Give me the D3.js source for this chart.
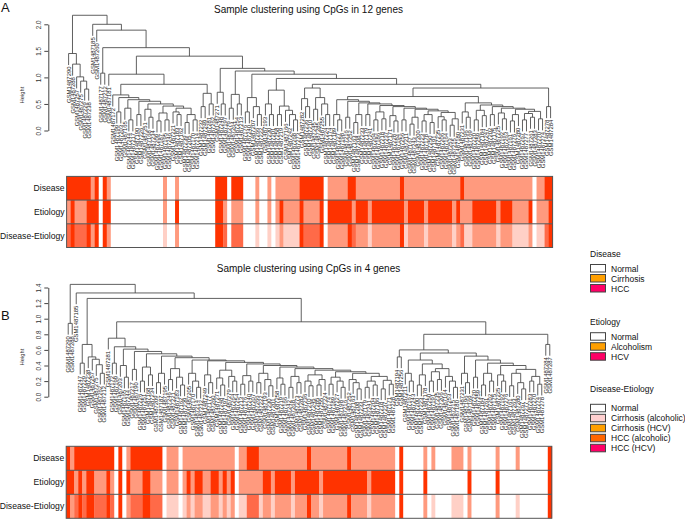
<!DOCTYPE html>
<html><head><meta charset="utf-8">
<script src="https://cdn.jsdelivr.net/npm/d3@7"></script>
<style>body{margin:0;background:#fff}svg{display:block}text{font-family:"Liberation Sans",Arial,Helvetica,sans-serif}</style>
</head><body><div id="chart"></div>
<script>
// ---------------- DATA ----------------
const titleA = "Sample clustering using CpGs in 12 genes";
const titleB = "Sample clustering using CpGs in 4 genes";
const rowNames = ["Disease", "Etiology", "Disease-Etiology"];
const ticksA = [0, 0.5, 1, 1.5, 2];
const ticksB = [0, 0.2, 0.4, 0.6, 0.8, 1.0, 1.2, 1.4];

// leaf labels (GSM1487xxx), left-to-right dendrogram order
const labelsA = [290,288,257,275,229,238,185,260,177,212,181,172,199,203,165,244,217,190,226,251,
 168,234,209,187,195,246,221,183,162,239,205,170,214,232,249,281,262,271,248,197,
 279,264,254,213,176,240,207,266,222,193,230,201,258,219,166,242,268,273,282,236,
 210,245,285,255,224,174,189,227,198,216,252,163,208,233,179,241,204,186,218,237,
 171,228,194,256,211,167,243,200,223,178,250,191,235,206,164,253,215,180,231,196,
 169,220,259,184,247,202,175,225,192,263,161,276,280,267,277,261,283,270,274,278,284];
const labelsB = [290,288,185,247,229,238,257,275,262,212,281,172,199,203,165,244,217,190,226,251,
 168,234,209,187,195,246,221,183,162,239,205,170,214,232,249,177,260,271,248,197,
 279,264,254,213,176,240,207,266,222,193,230,201,258,219,166,242,268,273,282,236,
 210,245,285,255,224,174,189,227,198,216,252,163,208,233,179,241,204,186,218,237,
 171,228,194,256,211,167,243,200,223,178,250,191,235,206,164,253,215,180,231,196,
 169,220,259,184,261,202,175,225,192,276,161,263,280,267,277,283,270,274,278,284,287];

// per-leaf annotation runs: [code, count]
// Disease: N normal, C cirrhosis, H HCC ; Etiology: N normal, A alcoholism, V HCV
const diseaseA = [["H",6],["C",1],["H",1],["N",1],["H",1],["C",1],["N",13],["C",1],["N",2],["C",1],["N",9],
 ["H",3],["N",1],["H",3],["N",3],["C",1],["N",2],["C",1],["N",1],["C",6],["H",6],["N",1],["C",5],["H",2],
 ["C",11],["H",1],["C",14],["H",1],["C",17],["N",1],["C",2],["H",2]];
const etiologyA = [["A",1],["V",1],["A",3],["V",3],["N",1],["V",2],["N",13],["A",1],["N",2],["V",1],["N",9],
 ["V",2],["A",1],["N",1],["A",3],["N",3],["A",1],["N",2],["A",1],["N",1],["A",1],["V",1],["A",4],["V",1],
 ["A",4],["V",1],["N",1],["V",6],["A",1],["V",3],["A",1],["V",8],["A",1],["V",4],["A",1],["V",6],["A",1],
 ["V",1],["A",3],["V",6],["A",1],["V",3],["A",4],["V",1],["N",1],["A",3],["V",1]];
const diseaseB = [["H",1],["C",1],["H",10],["N",1],["H",1],["N",1],["C",1],["H",8],["N",1],["C",3],["N",1],
 ["C",13],["N",1],["C",2],["H",3],["C",12],["H",1],["C",9],["H",1],["C",11],["N",1],["H",1],["N",5],["C",1],
 ["N",1],["C",1],["N",4],["C",3],["N",1],["C",1],["N",6],["C",1],["N",4],["C",1],["N",7],["H",1]];
const etiologyB = [["V",2],["A",1],["V",1],["A",1],["V",2],["A",3],["V",1],["A",1],["N",1],["V",1],["N",1],
 ["V",1],["A",3],["V",2],["A",3],["N",1],["A",3],["N",1],["A",1],["V",1],["A",1],["V",2],["A",2],["V",2],
 ["A",1],["V",1],["A",1],["V",1],["N",1],["A",6],["V",2],["A",1],["V",4],["A",1],["V",6],["A",1],["V",11],
 ["A",1],["V",6],["N",1],["V",1],["N",5],["V",1],["N",10],["V",1],["N",6],["V",1],["N",12],["V",1]];

// dendrogram merge structure: "(left,right)height", "." = leaf (in order)
function comb(parts, hs) { let s = parts[parts.length - 1];
  for (let k = parts.length - 2; k >= 0; k--) s = "(" + parts[k] + "," + s + ")" + hs[k]; return s; }

const A_C1 = "(.,(.,(.,(.,(.,.)0.78)0.93)1.01)1.25)1.45";
const A_S = comb(["(.,.)0.35","(.,(.,.)0.2)0.42","(.,.)0.3","(.,(.,.)0.25)0.4","((.,.)0.18,(.,.)0.2)0.33","(.,(.,.)0.3)0.35","((.,.)0.15,(.,.)0.2)0.3"],
  [0.62,0.58,0.55,0.5,0.46,0.42]);
const A_Z = "((.,.)0.45,(.,.)0.5)0.70";
const A_R5 = "(.,((.," + A_S + ")0.67," + A_Z + ")0.87)1.06";
const A_G = ["(.,(.,.)0.5)0.72", "((.,.)0.42,(.,.)0.5)0.68", "((.,.)0.35,(.,(.,.)0.3)0.45)0.62",
  "((.,(.,.)0.3)0.5,((.,.)0.3,(.,(.,(.,.)0.2)0.3)0.38)0.46)0.76"];
const A_G5 = "((.,(.,.)0.45)0.6,((.,.)0.4,(.,(.,.)0.3)0.5)0.62)0.8";
const A_B1L = comb(["(.,(.,.)0.2)0.3","(.,.)0.25","((.,.)0.15,.)0.3","(.,.)0.3","((.,.)0.2,(.,.)0.22)0.35","(.,(.,.)0.18)0.28",
  "(.,.)0.2","((.,.)0.12,.)0.25","((.,.)0.18,(.,.)0.15)0.3","(.,(.,.)0.2)0.26","((.,.)0.1,.)0.22"],
  [0.58,0.55,0.52,0.5,0.47,0.45,0.42,0.4,0.37,0.34]);
const A_B1R = comb(["(.,(.,.)0.25)0.35","((.,.)0.2,(.,.)0.28)0.38","(.,.)0.3","(.,(.,.)0.22)0.33","((.,.)0.18,.)0.3",
  "((.,.)0.2,(.,.)0.25)0.32","(.,.)0.22"], [0.52,0.48,0.45,0.42,0.4,0.36]);
const A_BIG = "((" + A_B1L + "," + A_B1R + ")0.64,(.,.)0.45)0.80";
const A_R6 = comb(A_G.concat(["(" + A_G5 + "," + A_BIG + ")0.87"]), [1.17,1.12,1.06,0.98]);
const treeA = "(" + A_C1 + ",(.,(.,((.,.)1.08,(" + A_R5 + "," + A_R6 + ")1.40)1.56)1.89)2.0)2.17";

const B_C3 = "((.,.)0.43,(.,(.,(.,(.,.)0.3)0.41)0.48)0.51)0.67";
const B_COMB = comb(["(.,.)0.43","(.,(.,.)0.25)0.4","(.,.)0.35","((.,.)0.2,(.,.)0.28)0.38","((.,.)0.18,.)0.3",
  "((.,.)0.22,(.,(.,.)0.15)0.25)0.36","(.,(.,(.,.)0.12)0.2)0.3","(.,(.,.)0.18)0.28","((.,(.,.)0.15)0.24,(.,(.,.)0.2)0.26)0.34",
  "((.,.)0.16,(.,.)0.2)0.27","((.,.)0.18,(.,(.,.)0.14)0.22)0.3","(.,(.,.)0.16)0.24","((.,.)0.12,(.,.)0.18)0.26",
  "((.,(.,.)0.14)0.2,((.,.)0.15,.)0.22)0.28","((.,.)0.16,(.,(.,.)0.12)0.2)0.25","(.,(.,(.,.)0.1)0.18)0.22",
  "(((.,.)0.12,(.,.)0.15)0.2,((.,.)0.1,(.,.)0.16)0.21)0.26"],
  [0.64,0.61,0.58,0.55,0.52,0.5,0.47,0.46,0.44,0.42,0.40,0.38,0.36,0.34,0.32,0.30]);
const B_X1 = comb(["(.,(.,.)0.2)0.3","((.,.)0.15,.)0.28","((.,.)0.2,(.,.)0.22)0.32","(.,(.,(.,.)0.12)0.2)0.26"], [0.47,0.42,0.36]);
const B_X2 = comb(["(.,(.,.)0.18)0.3","(.,.)0.25","((.,.)0.15,(.,.)0.2)0.3","(.,(.,.)0.2)0.28","((.,.)0.14,(.,(.,.)0.1)0.18)0.3",
  "((.,.)0.2,(.,.)0.16)0.26"], [0.52,0.47,0.43,0.4,0.35]);
const B_N1 = "(((.,.)0.51,(" + B_X1 + "," + B_X2 + ")0.56)0.60,(.,.)0.67)0.80";
const treeB = "((.,.)0.94,(.,(" + B_C3 + ",((.," + B_COMB + ")0.75," + B_N1 + ")0.96)1.26)1.33)1.44";

// colours
const cellColor = {N: "#ffffff", CA: "#ffd0c6", C: "#ff9a7e", HA: "#ff6a48", H: "#ff3300"};
const legends = [
  {title: "Disease", items: [["Normal","#ffffff"],["Cirrhosis","#ff9f00"],["HCC","#ff0066"]]},
  {title: "Etiology", items: [["Normal","#ffffff"],["Alcoholism","#ff9f00"],["HCV","#ff0066"]]},
  {title: "Disease-Etiology", items: [["Normal","#ffffff"],["Cirrhosis (alcoholic)","#ffd0d0"],["Cirrhosis (HCV)","#ff9f00"],
     ["HCC (alcoholic)","#ff6600"],["HCC (HCV)","#ff0066"]]}
];

// ---------------- HELPERS ----------------
function expand(runs) { const out = []; runs.forEach(([c, n]) => { for (let k = 0; k < n; k++) out.push(c); }); return out; }
function toRuns(codes) { const out = []; codes.forEach((c, k) => {
  if (out.length && out[out.length - 1].code === c) out[out.length - 1].len++; else out.push({code: c, start: k, len: 1}); });
  return out; }
function parseTree(s) {
  let i = 0, leaf = 0;
  function node() {
    if (s[i] === ".") { i++; return {leaf: leaf++}; }
    i++; const l = node(); i++; const r = node(); i++;
    let j = i; while (i < s.length && /[0-9.]/.test(s[i])) i++;
    return {h: +s.slice(j, i), l, r};
  }
  const root = node(); root.n = leaf; return root;
}
function rowCodes(dis, eti) {
  const d = expand(dis), e = expand(eti);
  const de = d.map((c, k) => c === "N" ? "N" : c === "C" ? (e[k] === "V" ? "C" : "CA") : (e[k] === "A" ? "HA" : "H"));
  const et = e.map(c => c === "N" ? "N" : c === "A" ? "C" : "H");
  return [d, et, de];
}

const W = 685, H = 519;
const svg = d3.select("#chart").append("svg").attr("width", W).attr("height", H);
const FONT = "'Liberation Sans',Arial,sans-serif";

function panel(cfg) {
  const g = svg.append("g");
  const root = parseTree(cfg.tree);
  const x = d3.scaleBand().domain(d3.range(root.n)).range([cfg.x0, cfg.x1]).paddingInner(0).paddingOuter(0);
  const y = d3.scaleLinear().domain([0, cfg.ymax]).range([cfg.y0, cfg.yTop]);
  const hang = 0.1 * root.h;
  (function pos(nd) { if (nd.leaf !== undefined) { nd.x = x(nd.leaf) + x.bandwidth() / 2; return; }
    pos(nd.l); pos(nd.r); nd.x = (nd.l.x + nd.r.x) / 2; })(root);
  const segs = [], leaves = [];
  (function walk(nd) { if (nd.leaf !== undefined) return;
    const cy = c => c.leaf !== undefined ? y(nd.h - hang) : y(c.h);
    segs.push(`M${nd.l.x},${cy(nd.l)}V${y(nd.h)}H${nd.r.x}V${cy(nd.r)}`);
    [nd.l, nd.r].forEach(c => { if (c.leaf !== undefined) leaves.push({i: c.leaf, x: c.x, y: y(nd.h - hang)}); });
    walk(nd.l); walk(nd.r); })(root);
  g.append("g").selectAll("path").data(segs).join("path").attr("d", d => d)
    .attr("fill", "none").attr("stroke", "#444").attr("stroke-width", 0.85);
  g.append("g").selectAll("text").data(leaves).join("text")
    .attr("transform", d => `translate(${d.x + 2},${d.y + 1.5}) rotate(-90)`)
    .attr("text-anchor", "end").attr("font-size", 5.9).attr("fill", "#1a1a1a")
    .text(d => "GSM1487" + cfg.labels[d.i]);
  const tmax = cfg.ticks[cfg.ticks.length - 1];
  const ax = d3.scaleLinear().domain([0, tmax]).range([y(0), y(tmax)]);
  const axg = g.append("g").attr("transform", `translate(${cfg.axisX},0)`)
    .call(d3.axisLeft(ax).tickValues(cfg.ticks).tickFormat(d3.format(".1f")).tickSize(4).tickSizeOuter(0));
  axg.select(".domain").attr("stroke", "#444");
  axg.selectAll(".tick line").attr("stroke", "#444");
  axg.selectAll(".tick text").attr("transform", "rotate(-90)").attr("x", 0).attr("y", -7.5).attr("dy", 0)
    .attr("text-anchor", "middle").attr("font-size", 6.3).attr("fill", "#333").attr("font-family", FONT);
  g.append("text").attr("transform", `translate(${cfg.axisX - 24},${cfg.heightLabelY}) rotate(-90)`)
    .attr("text-anchor", "middle").attr("font-size", 5.8).attr("fill", "#333").text("Height");
  g.append("text").attr("x", 308.5).attr("y", cfg.titleY).attr("text-anchor", "middle").attr("font-size", 10).attr("fill", "#111").text(cfg.title);
  g.append("text").attr("x", 1).attr("y", cfg.letterY).attr("font-size", 13).attr("fill", "#111").text(cfg.letter);
  const rows = rowCodes(cfg.dis, cfg.eti);
  const hx = d3.scaleBand().domain(d3.range(rows[0].length)).range([cfg.x0, cfg.x1]);
  const ry = d3.scaleBand().domain(d3.range(3)).range([cfg.stripTop, cfg.stripBottom]);
  rows.forEach((codes, r) => {
    g.append("g").selectAll("rect").data(toRuns(codes)).join("rect")
      .attr("x", d => hx(d.start)).attr("width", d => d.len * hx.bandwidth() + 0.3)
      .attr("y", ry(r)).attr("height", ry.bandwidth()).attr("fill", d => cellColor[d.code]);
    g.append("text").attr("x", cfg.x0 - 2).attr("y", ry(r) + ry.bandwidth() / 2 + 3)
      .attr("text-anchor", "end").attr("font-size", 8.6).attr("fill", "#111").text(rowNames[r]);
  });
  g.append("rect").attr("x", cfg.x0).attr("y", cfg.stripTop).attr("width", cfg.x1 - cfg.x0).attr("height", cfg.stripBottom - cfg.stripTop)
    .attr("fill", "none").attr("stroke", "#555").attr("stroke-width", 1);
  [1, 2].forEach(r => g.append("line").attr("x1", cfg.x0).attr("x2", cfg.x1).attr("y1", ry(r)).attr("y2", ry(r))
    .attr("stroke", "#555").attr("stroke-width", 1));
}

panel({tree: treeA, labels: labelsA, x0: 66.6, x1: 552.6, y0: 130.5, yTop: 130.5 - 53.1 * 2, ymax: 2, ticks: ticksA,
  axisX: 48.3, heightLabelY: 95, title: titleA, titleY: 13, letter: "A", letterY: 12,
  dis: diseaseA, eti: etiologyA, stripTop: 176.4, stripBottom: 247.5});
panel({tree: treeB, labels: labelsB, x0: 66.2, x1: 551.8, y0: 396.7, yTop: 396.7 - 78 * 1.4, ymax: 1.4, ticks: ticksB,
  axisX: 48.3, heightLabelY: 357, title: titleB, titleY: 272, letter: "B", letterY: 320,
  dis: diseaseB, eti: etiologyB, stripTop: 446.3, stripBottom: 518.3});

const legY = [{t: 257, b: 264.5}, {t: 325.3, b: 332.7}, {t: 392.3, b: 404.3}];
legends.forEach((L, li) => {
  const g = svg.append("g");
  g.append("text").attr("x", 590).attr("y", legY[li].t).attr("font-size", 8.5).attr("fill", "#111").text(L.title);
  L.items.forEach(([name, col], k) => {
    const yy = legY[li].b + k * 10;
    g.append("rect").attr("x", 590.5).attr("y", yy).attr("width", 15).attr("height", 7.5)
      .attr("fill", col).attr("stroke", "#444").attr("stroke-width", 1);
    g.append("text").attr("x", 611).attr("y", yy + 7).attr("font-size", 8.5).attr("fill", "#111").text(name);
  });
});
</script></body></html>
